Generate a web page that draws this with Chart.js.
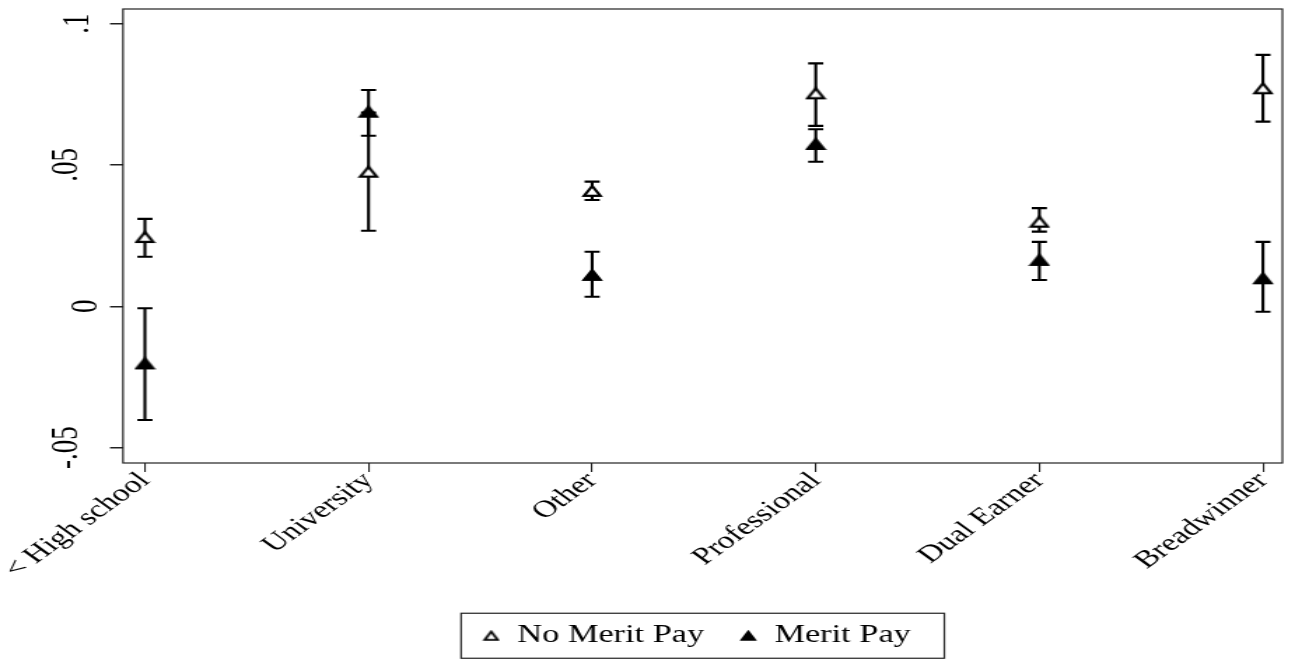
<!DOCTYPE html>
<html>
<head>
<meta charset="utf-8">
<script src="https://cdn.jsdelivr.net/npm/chart.js@4/dist/chart.umd.min.js"></script>
<style>
  html, body { margin: 0; padding: 0; background: #fff; overflow: hidden; }
  /* the original graph is stretched sideways, so draw narrow and widen it */
  #wrap { width: 921px; height: 660px; transform: scaleX(1.4); transform-origin: 0 0; }
</style>
</head>
<body>
<div id="wrap"><canvas id="meritChart"></canvas></div>
<script>
// categories and estimates
const categories = ['< High school', 'University', 'Other', 'Professional', 'Dual Earner', 'Breadwinner'];

const noMeritEst = [0.0245, 0.0476, 0.0408, 0.0753, 0.0299, 0.0771];
const noMeritLo  = [0.0175, 0.0267, 0.0376, 0.0638, 0.0264, 0.0653];
const noMeritHi  = [0.0309, 0.0685, 0.0441, 0.0859, 0.0347, 0.0889];

const meritEst = [-0.0202, 0.0688, 0.0111, 0.0574, 0.0164, 0.0099];
const meritLo  = [-0.0402, 0.0603, 0.0034, 0.0511, 0.0093, -0.0019];
const meritHi  = [-0.0007, 0.0765, 0.0193, 0.0626, 0.0228, 0.0228];

const yTicks = [-0.05, 0, 0.05, 0.1];
const yTickLabels = ['-.05', '0', '.05', '.1'];

const serif = "'Liberation Serif', 'Times New Roman', serif";

// triangle markers, offsetLeft leaves blank room in front (used for legend spacing)
function makeTriangle(w, h, filled, lw, offsetLeft) {
    const off = offsetLeft || 0;
    const c = document.createElement('canvas');
    c.width = w + off;
    c.height = h;
    const g = c.getContext('2d');
    g.beginPath();
    g.moveTo(off + lw, h - lw);
    g.lineTo(off + w - lw, h - lw);
    g.lineTo(off + w / 2, lw);
    g.closePath();
    g.fillStyle = filled ? '#000' : '#fff';
    g.fill();
    g.lineWidth = lw;
    g.strokeStyle = '#000';
    g.stroke();
    return c;
}
const hollowTri = makeTriangle(16, 14, false, 2.1);
const solidTri = makeTriangle(16, 14, true, 2.1);
const legendPad = 13;
const hollowTriLegend = makeTriangle(13, 12, false, 1.8, legendPad);
const solidTriLegend = makeTriangle(13, 12, true, 1.8, legendPad);

const errorBars = {
    id: 'errorBars',
    afterUpdate(chart) {
        // centre the legend under the plot area, like the original
        const lg = chart.legend;
        const a = chart.chartArea;
        const dx = (a.left + a.right) / 2 - 11 - (lg.left + lg.right) / 2;
        lg.left += dx;
        lg.right += dx;
        lg.top -= 2;
        lg.bottom -= 2;
        lg.legendHitBoxes.forEach(function(h) { h.left += dx; h.top -= 2; });
    },
    beforeDatasetsDraw(chart) {
        const ctx = chart.ctx;
        const x = chart.scales.x;
        const y = chart.scales.y;
        const sets = [[noMeritLo, noMeritHi], [meritLo, meritHi]];
        ctx.save();
        ctx.strokeStyle = '#000';
        ctx.lineWidth = 2.1;
        sets.forEach(function(s) {
            categories.forEach(function(cat, i) {
                const px = x.getPixelForValue(i);
                const lo = y.getPixelForValue(s[0][i]);
                const hi = y.getPixelForValue(s[1][i]);
                ctx.beginPath();
                ctx.moveTo(px, lo);
                ctx.lineTo(px, hi);
                ctx.moveTo(px - 5.4, lo);
                ctx.lineTo(px + 5.4, lo);
                ctx.moveTo(px - 5.4, hi);
                ctx.lineTo(px + 5.4, hi);
                ctx.stroke();
            });
        });
        ctx.restore();
    },
    afterDraw(chart) {
        const ctx = chart.ctx;
        const a = chart.chartArea;
        const y = chart.scales.y;
        ctx.save();
        // plot frame
        ctx.strokeStyle = '#222';
        ctx.lineWidth = 1.2;
        ctx.strokeRect(a.left, a.top, a.right - a.left, a.bottom - a.top);
        // rotated y tick labels (short labels sit closer to the axis)
        ctx.fillStyle = '#000';
        ctx.font = '27px ' + serif;
        ctx.textAlign = 'center';
        ctx.textBaseline = 'alphabetic';
        yTicks.forEach(function(v, i) {
            const w = ctx.measureText(yTickLabels[i]).width;
            ctx.save();
            ctx.translate(Math.max(55, 82.8 - w), y.getPixelForValue(v));
            ctx.rotate(-Math.PI / 2);
            ctx.fillText(yTickLabels[i], 0, 0);
            ctx.restore();
        });
        // legend frame
        const hb = chart.legend.legendHitBoxes;
        if (hb && hb.length) {
            const left = hb[0].left - 2;
            const last = hb[hb.length - 1];
            const right = last.left + last.width + 24;
            const cy = hb[0].top + hb[0].height / 2;
            ctx.strokeStyle = '#222';
            ctx.lineWidth = 1.2;
            ctx.strokeRect(left, cy - 22.5, right - left, 45);
        }
        ctx.restore();
    }
};

function toPoints(values) {
    return values.map((v, i) => ({ x: i, y: v }));
}

const ctx = document.getElementById('meritChart').getContext('2d');
new Chart(ctx, {
    type: 'scatter',
    data: {
        datasets: [{
            label: 'No Merit Pay',
            data: toPoints(noMeritEst),
            pointStyle: hollowTri,
            backgroundColor: '#fff',
            borderColor: '#000'
        }, {
            label: 'Merit Pay',
            data: toPoints(meritEst),
            pointStyle: solidTri,
            backgroundColor: '#000',
            borderColor: '#000'
        }]
    },
    plugins: [errorBars],
    options: {
        responsive: true,
        maintainAspectRatio: false,
        animation: false,
        layout: {
            padding: { top: 9, right: 2.4, bottom: 0, left: 0 }
        },
        plugins: {
            tooltip: { enabled: false },
            legend: {
                position: 'bottom',
                labels: {
                    usePointStyle: true,
                    pointStyleWidth: 13 + legendPad,
                    color: '#000',
                    font: { family: serif, size: 24.5 },
                    padding: 12,
                    generateLabels: function(chart) {
                        const items = Chart.defaults.plugins.legend.labels.generateLabels(chart);
                        items[0].pointStyle = hollowTriLegend;
                        items[1].pointStyle = solidTriLegend;
                        return items;
                    }
                }
            }
        },
        scales: {
            x: {
                type: 'linear',
                min: -0.098,
                max: 5.087,
                afterBuildTicks: function(scale) {
                    scale.ticks = categories.map((c, i) => ({ value: i }));
                },
                afterFit: function(scale) {
                    scale.height = scale.chart.height - 463 - scale.chart.legend.height;
                    scale.paddingLeft = 0;
                    scale.paddingRight = 0;
                },
                border: { display: false },
                grid: {
                    drawOnChartArea: false,
                    drawTicks: true,
                    tickLength: 9,
                    color: '#222',
                    lineWidth: 1.1
                },
                ticks: {
                    autoSkip: false,
                    minRotation: 45,
                    maxRotation: 45,
                    padding: -5,
                    color: '#000',
                    font: { family: serif, size: 24 },
                    callback: function(value) {
                        return categories[value];
                    }
                }
            },
            y: {
                min: -0.05541,
                max: 0.10513,
                afterBuildTicks: function(scale) {
                    scale.ticks = yTicks.map(v => ({ value: v }));
                },
                afterFit: function(scale) {
                    scale.width = 87.86;
                },
                border: { display: false },
                grid: {
                    drawOnChartArea: false,
                    drawTicks: true,
                    tickLength: 9.3,
                    color: '#222',
                    lineWidth: 1.5
                },
                ticks: {
                    color: 'rgba(0,0,0,0)',
                    font: { family: serif, size: 10 }
                }
            }
        }
    }
});
</script>
</body>
</html>
